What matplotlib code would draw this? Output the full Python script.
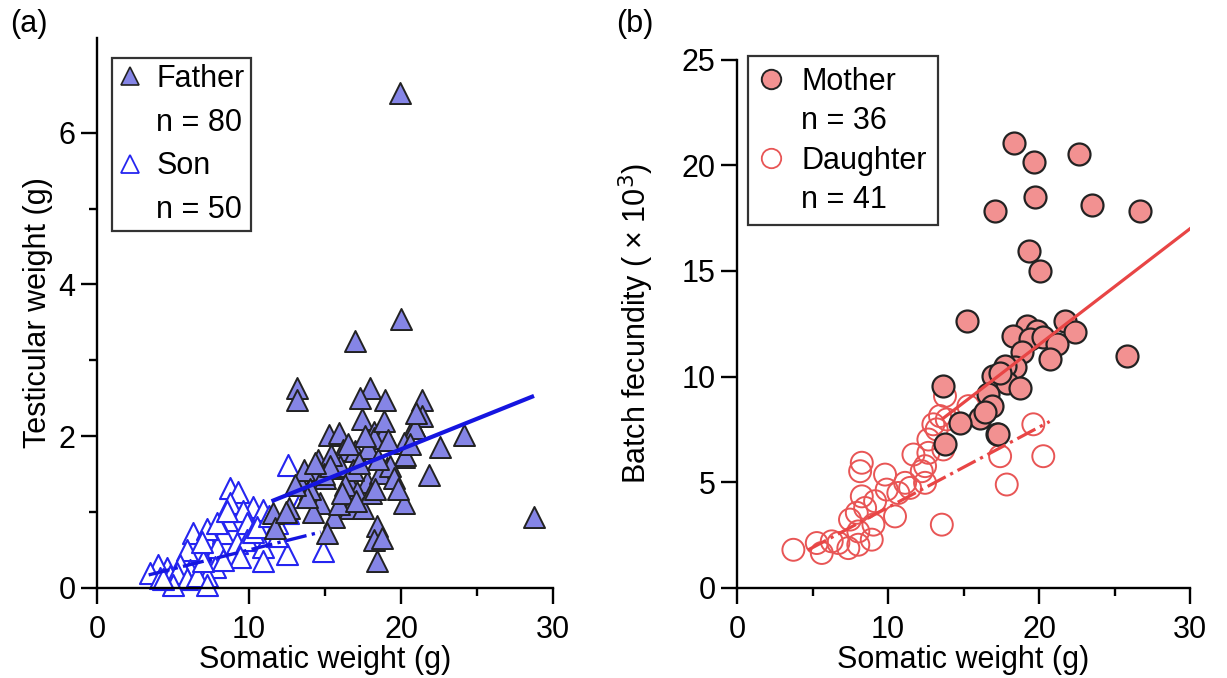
import matplotlib
matplotlib.use("Agg")
import matplotlib.pyplot as plt
from matplotlib.lines import Line2D
import numpy as np

plt.rcParams['font.family'] = ['Liberation Sans', 'DejaVu Sans']

# (a) fathers: somatic weight (g), testicular weight (g)
father_x = [13.18, 13.14, 17.96, 17.30, 18.95, 17.41, 18.18, 18.84, 18.18, 15.22,
            15.88, 16.20, 16.97, 14.56, 15.66, 14.45, 13.36, 15.00, 16.53, 17.74,
            19.06, 18.62, 20.15, 20.81, 17.08, 14.67, 16.64, 17.52, 20.15, 15.55,
            11.60, 11.71, 15.11, 18.40, 18.18, 18.73, 18.40, 21.36, 21.36, 20.92,
            24.10, 22.57, 20.15, 20.26, 21.80, 28.70, 19.98, 16.97, 19.90, 19.28,
            12.60, 13.60, 14.00, 16.00, 17.80, 19.50, 15.40, 16.80, 18.00, 14.20,
            13.80, 16.30, 17.20, 18.50, 19.80, 15.90, 14.90, 12.40, 17.60, 16.10,
            20.60, 18.90, 15.30, 14.30, 19.10, 17.00, 16.50, 18.30, 13.00, 21.00]
father_y = [2.63, 2.48, 2.63, 2.50, 2.48, 2.22, 2.06, 2.04, 1.97, 2.02,
            2.04, 1.82, 1.80, 1.69, 1.58, 1.51, 1.38, 1.45, 1.42, 1.40,
            1.58, 1.51, 1.73, 2.13, 1.27, 1.12, 1.05, 1.05, 1.12, 0.94,
            0.99, 0.79, 0.72, 0.81, 0.63, 0.66, 0.35, 2.48, 2.26, 2.11,
            2.02, 1.86, 1.91, 1.75, 1.49, 0.94, 3.54, 3.25, 6.53, 1.60,
            1.05, 1.55, 1.30, 1.60, 1.85, 1.45, 1.75, 1.55, 1.25, 1.00,
            1.20, 1.35, 1.65, 1.70, 1.30, 1.10, 1.50, 1.00, 2.00, 1.25,
            1.90, 2.20, 1.60, 1.65, 1.95, 1.15, 1.90, 1.30, 1.35, 2.30]

# (a) sons
son_x = [12.59, 8.75, 9.30, 8.75, 10.28, 9.63, 10.94, 8.53, 9.85, 12.59,
         13.57, 6.34, 7.22, 8.31, 9.19, 9.85, 10.94, 9.41, 10.94, 12.48,
         14.89, 7.87, 6.78, 5.90, 7.76, 7.22, 6.12, 5.46, 4.58, 4.04,
         3.49, 4.14, 4.80, 5.24, 5.90, 6.56, 7.22, 5.02, 4.36, 7.00,
         8.31, 7.22, 7.87, 11.82, 10.28, 11.82, 8.53, 6.90, 10.50, 11.30]
son_y = [1.62, 1.32, 1.27, 1.12, 1.07, 1.01, 1.03, 0.90, 0.85, 0.99,
         1.20, 0.72, 0.63, 0.72, 0.59, 0.63, 0.54, 0.41, 0.35, 0.44,
         0.48, 0.54, 0.48, 0.50, 0.28, 0.15, 0.24, 0.30, 0.26, 0.30,
         0.19, 0.13, 0.15, 0.19, 0.11, 0.15, 0.04, 0.04, 0.11, 0.35,
         0.37, 0.77, 0.85, 0.68, 0.74, 0.85, 1.01, 0.60, 0.80, 0.95]

# (b) mothers: somatic weight (g), batch fecundity (x10^3)
mother_x = [18.34, 19.67, 22.67, 19.74, 17.09, 23.49, 26.69, 19.36, 20.07, 15.21,
            21.72, 22.38, 19.19, 18.30, 19.85, 19.40, 20.28, 21.17, 18.85, 20.73,
            25.80, 18.41, 17.75, 16.97, 17.86, 18.74, 13.66, 16.64, 16.87, 16.09,
            14.77, 17.20, 13.77, 17.42, 17.30, 16.40]
mother_y = [21.07, 20.16, 20.55, 18.50, 17.86, 18.10, 17.86, 15.96, 15.01, 12.64,
            12.64, 12.09, 12.40, 11.93, 12.17, 11.77, 11.85, 11.53, 11.14, 10.82,
            10.98, 10.43, 10.50, 10.03, 9.71, 9.48, 9.55, 9.16, 8.60, 8.05,
            7.82, 7.26, 6.79, 10.19, 7.30, 8.30]

# (b) daughters
daughter_x = [3.73, 5.28, 5.61, 6.27, 6.71, 7.37, 8.03, 8.92, 7.48, 8.03,
              9.03, 7.93, 8.26, 8.48, 9.14, 9.91, 9.80, 10.46, 10.68, 11.13,
              11.46, 11.68, 12.23, 12.45, 12.67, 8.26, 8.15, 13.22, 13.44, 13.56,
              13.77, 15.32, 13.89, 13.00, 19.62, 12.67, 13.66, 17.42, 20.28, 12.45,
              17.86]
daughter_y = [1.80, 2.12, 1.65, 2.20, 2.12, 1.88, 2.04, 2.28, 3.23, 2.67,
              2.99, 3.55, 4.33, 3.78, 4.10, 4.65, 5.36, 3.38, 4.49, 4.97,
              4.73, 6.31, 5.52, 4.97, 6.39, 5.92, 5.52, 7.50, 8.13, 2.99,
              9.08, 8.60, 7.97, 7.74, 7.74, 7.02, 6.55, 6.23, 6.23, 5.76,
              4.89]

# fitted lines: (intercept, slope, x start, x end)
father_fit = (0.218, 0.0805, 11.6, 28.6)
son_fit = (0.0, 0.050, 3.4, 14.7)
mother_fit = (0.53, 0.549, 13.66, 30.0)
daughter_fit = (0.006, 0.38, 4.7, 20.7)

FS = 22
fig = plt.figure(figsize=(12.27, 6.78), dpi=100)
axa = fig.add_axes([0.079, 0.133, 0.372, 0.811])
axb = fig.add_axes([0.6007, 0.133, 0.3692, 0.779])

def style(ax):
    for s in ['top', 'right']:
        ax.spines[s].set_visible(False)
    for s in ['left', 'bottom']:
        ax.spines[s].set_linewidth(1.7)
    ax.tick_params(which='major', direction='out', length=11.5, width=1.7, labelsize=FS, pad=4)
    ax.tick_params(which='minor', direction='out', length=6, width=1.7)
    ax.tick_params(axis='x', which='major', pad=8)
    ax.set_xlim(0, 30)
    ax.set_xticks([0, 10, 20, 30])
    ax.set_xticks([5, 15, 25], minor=True)
    ax.set_xlabel("Somatic weight (g)", fontsize=FS, labelpad=0)

def fitline(ax, fit, **kw):
    b0, b1, x0, x1 = fit
    xs = np.array([x0, x1])
    ax.plot(xs, b0 + b1 * xs, **kw)

# ---- (a)
fa_col = '#8585E6'
son_col = '#2525F0'
axa.scatter(father_x, father_y, marker='^', s=230, facecolor=fa_col, edgecolor='#222222',
            linewidth=1.4, zorder=3, clip_on=False)
axa.scatter(son_x, son_y, marker='^', s=230, facecolor='white', edgecolor=son_col,
            linewidth=1.5, zorder=2, clip_on=False)
fitline(axa, father_fit, color='#1515E0', lw=3, zorder=4)
fitline(axa, son_fit, color='#1515E0', lw=2.4, ls='-.', zorder=4)
style(axa)
axa.set_ylim(0, 7.25)
axa.set_yticks([0, 2, 4, 6])
axa.set_yticks([1, 3, 5], minor=True)
axa.set_ylabel("Testicular weight (g)", fontsize=FS, labelpad=4)

blank = Line2D([], [], linestyle='none')
ha = [Line2D([], [], ls='none', marker='^', ms=13, mfc=fa_col, mec='#222222', mew=1.2), blank,
      Line2D([], [], ls='none', marker='^', ms=13, mfc='white', mec=son_col, mew=1.3), blank]
leg = axa.legend(ha, ["Father", "n = 80", "Son", "n = 50"], loc='upper left',
                 bbox_to_anchor=(0.033, 0.964), borderaxespad=0, fontsize=FS,
                 frameon=True, fancybox=False, edgecolor='black', handlelength=0.8,
                 handletextpad=0.45, labelspacing=0.45, borderpad=0.2)
leg.get_frame().set_linewidth(1.6)

# ---- (b)
mo_col = '#F29191'
da_col = '#E85555'
axb.scatter(mother_x, mother_y, marker='o', s=250, facecolor=mo_col, edgecolor='#222222',
            linewidth=1.6, zorder=3, clip_on=False)
axb.scatter(daughter_x, daughter_y, marker='o', s=250, facecolor='none', edgecolor=da_col,
            linewidth=1.4, zorder=2, clip_on=False)
fitline(axb, mother_fit, color='#E84545', lw=2.3, zorder=4)
fitline(axb, daughter_fit, color='#E84545', lw=2.3, ls='-.', zorder=4)
style(axb)
axb.set_ylim(0, 25)
axb.set_yticks([0, 5, 10, 15, 20, 25])
axb.set_ylabel("Batch fecundity ( × 10$^3$)", fontsize=FS, labelpad=18)

hb = [Line2D([], [], ls='none', marker='o', ms=14, mfc=mo_col, mec='#222222', mew=1.4), blank,
      Line2D([], [], ls='none', marker='o', ms=14, mfc='none', mec=da_col, mew=1.3), blank]
leg = axb.legend(hb, ["Mother", "n = 36", "Daughter", "n = 41"], loc='upper left',
                 bbox_to_anchor=(0.024, 1.006), borderaxespad=0, fontsize=FS,
                 frameon=True, fancybox=False, edgecolor='black', handlelength=0.8,
                 handletextpad=0.6, labelspacing=0.3, borderpad=0.35)
leg.get_frame().set_linewidth(1.6)

fig.text(0.008, 0.965, "(a)", fontsize=FS, va='center', ha='left')
fig.text(0.502, 0.965, "(b)", fontsize=FS, va='center', ha='left')

fig.savefig("out.png", dpi=100)
